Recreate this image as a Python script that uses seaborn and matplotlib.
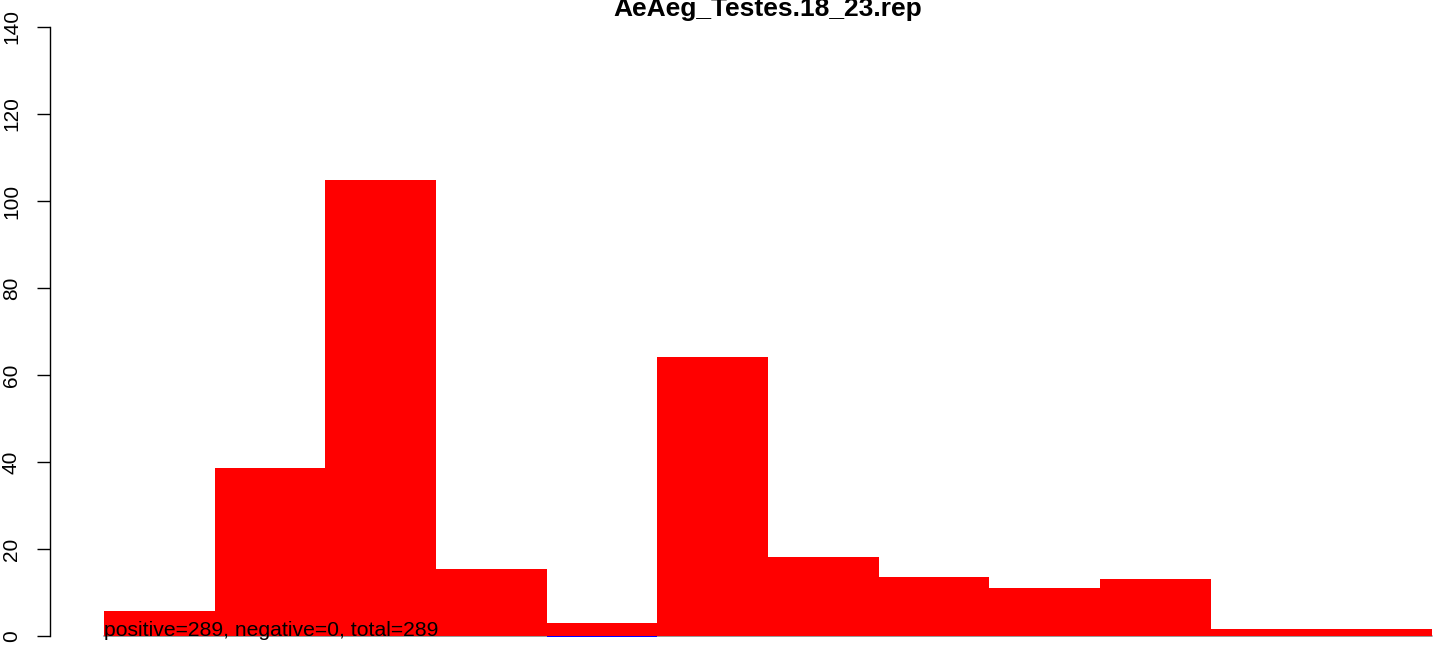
import matplotlib
matplotlib.use("Agg")
import matplotlib.pyplot as plt
import seaborn as sns
import pandas as pd
import numpy as np

title = "AeAeg_Testes.18_23.rep"
positive = [5.75, 38.6, 104.8, 15.4, 3.0, 64.2, 18.2, 13.6, 11.0, 13.1, 1.6, 1.6]
negative = [0, 0, 0, 0, -0.3, 0, 0, 0, 0, 0, 0, 0]
yticks = [0, 20, 40, 60, 80, 100, 120, 140]
note = "positive=289, negative=0, total=289"

sns.set_style("white")
plt.rcParams['font.family'] = ['Liberation Sans', 'DejaVu Sans']
plt.rcParams['text.color'] = 'black'
plt.rcParams['ytick.color'] = 'black'
plt.rcParams['ytick.labelcolor'] = 'black'

W, H = 1444, 648
fig = plt.figure(figsize=(W / 100, H / 100), dpi=100)
ax = fig.add_axes([50 / W, 0, 1 - 50 / W, 1])

pos = np.arange(len(positive)) + 0.5
df = pd.DataFrame({"x": pos, "pos": positive, "neg": negative})

ax.plot([0, len(positive)], [0, 0], color="#888888", lw=1.2, zorder=1)
sns.barplot(data=df, x="x", y="pos", native_scale=True, width=1.0,
            color="#ff0000", saturation=1, edgecolor="none", linewidth=0, ax=ax, zorder=2)
sns.barplot(data=df, x="x", y="neg", native_scale=True, width=1.0,
            color="#0000ff", saturation=1, edgecolor="none", linewidth=0, ax=ax, zorder=2)

px_per_unit = 609 / 140
ax.set_xlim(-54 / 110.67, (W - 50 - 54) / 110.67)
ax.set_ylim(-(H - 636) / px_per_unit, 636 / px_per_unit)

for s in ["top", "right", "bottom"]:
    ax.spines[s].set_visible(False)
ax.spines["left"].set_bounds(0, 140)
ax.spines["left"].set_linewidth(1.0)
ax.spines["left"].set_color("black")
ax.set_xticks([])
ax.set_yticks(yticks)
ax.set_yticklabels([str(v) for v in yticks])
ax.tick_params(axis="y", length=9.4, width=1.0, pad=11.5, color="black", left=True,
               labelsize=15, labelrotation=90, labelcolor="black")
for lbl in ax.get_yticklabels():
    lbl.set_verticalalignment("center")
ax.set_xlabel("")
ax.set_ylabel("")

ax.text(0, 0, note, fontsize=15.2, ha="left", va="baseline", color="black", zorder=5)
fig.text(768 / W, 1 - 16 / H, title, fontsize=19, fontweight="bold", ha="center",
         va="baseline", color="black")

fig.savefig("out.png", dpi=100)
